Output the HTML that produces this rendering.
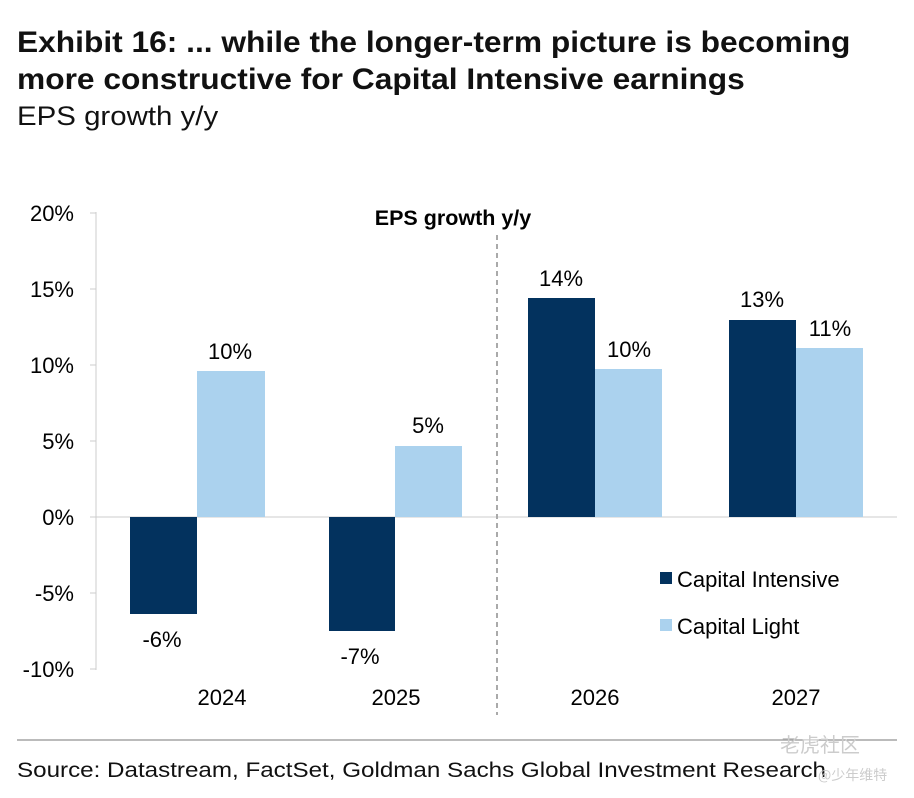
<!DOCTYPE html>
<html><head><meta charset="utf-8"><style>
body{margin:0;background:#fff;width:914px;height:798px;overflow:hidden;font-family:"Liberation Sans",sans-serif;position:relative}
.t{position:absolute;left:17px;font-weight:bold;font-size:30px;color:#111;line-height:37px;white-space:nowrap;transform-origin:0 0;transform:scaleX(1.057)}
</style></head><body>
<div class="t" style="top:24px">Exhibit 16: ... while the longer-term picture is becoming<br>more constructive for Capital Intensive earnings</div>
<div style="position:absolute;left:17px;top:101px;font-size:27px;color:#111;white-space:nowrap;transform-origin:0 0;transform:scaleX(1.09)">EPS growth y/y</div>
<svg width="914" height="798" style="position:absolute;left:0;top:0" font-family="Liberation Sans, sans-serif">
<g font-size="22" fill="#000" text-anchor="end">
<text x="74" y="221">20%</text><text x="74" y="297">15%</text><text x="74" y="373">10%</text>
<text x="74" y="449">5%</text><text x="74" y="525">0%</text><text x="74" y="601">-5%</text><text x="74" y="677">-10%</text>
</g>
<line x1="96" y1="212" x2="96" y2="670" stroke="#ccc"/>
<g stroke="#ccc"><line x1="90" y1="213" x2="96" y2="213"/><line x1="90" y1="289" x2="96" y2="289"/><line x1="90" y1="365" x2="96" y2="365"/><line x1="90" y1="441" x2="96" y2="441"/><line x1="90" y1="517" x2="96" y2="517"/><line x1="90" y1="593" x2="96" y2="593"/><line x1="90" y1="669" x2="96" y2="669"/></g>
<line x1="96" y1="517" x2="897" y2="517" stroke="#ccc"/>
<line x1="497" y1="235" x2="497" y2="715" stroke="#aaa" stroke-width="2" stroke-dasharray="5,4"/>
<rect x="130" y="517" width="67" height="97" fill="#03325e"/>
<rect x="197" y="371" width="68" height="146" fill="#abd2ee"/>
<rect x="329" y="517" width="66" height="114" fill="#03325e"/>
<rect x="395" y="446" width="67" height="71" fill="#abd2ee"/>
<rect x="528" y="298" width="67" height="219" fill="#03325e"/>
<rect x="595" y="369" width="67" height="148" fill="#abd2ee"/>
<rect x="729" y="320" width="67" height="197" fill="#03325e"/>
<rect x="796" y="348" width="67" height="169" fill="#abd2ee"/>
<g font-size="22" fill="#000" text-anchor="middle">
<text x="162" y="647">-6%</text><text x="230" y="359">10%</text>
<text x="360" y="664">-7%</text><text x="428" y="433">5%</text>
<text x="561" y="286">14%</text><text x="629" y="357">10%</text>
<text x="762" y="307">13%</text><text x="830" y="336">11%</text>
<text x="222" y="705">2024</text><text x="396" y="705">2025</text>
<text x="595" y="705">2026</text><text x="796" y="705">2027</text>
<text x="453" y="225" font-weight="bold" font-size="21.5">EPS growth y/y</text>
</g>
<rect x="660" y="572" width="12" height="12" fill="#03325e"/>
<rect x="660" y="619" width="12" height="12" fill="#abd2ee"/>
<text x="677" y="587" font-size="22">Capital Intensive</text>
<text x="677" y="634" font-size="22">Capital Light</text>
<line x1="17" y1="740" x2="897" y2="740" stroke="#777" stroke-width="1"/>
<text x="17" y="777" font-size="21" fill="#111" textLength="809" lengthAdjust="spacingAndGlyphs">Source: Datastream, FactSet, Goldman Sachs Global Investment Research</text>
<text x="780" y="752" font-size="20" fill="#ccc" font-family="Noto Sans CJK SC, sans-serif">老虎社区</text>
<text x="818" y="780" font-size="14" fill="#ccc" font-family="Noto Sans CJK SC, sans-serif">@少年维特</text>
</svg>
</body></html>
